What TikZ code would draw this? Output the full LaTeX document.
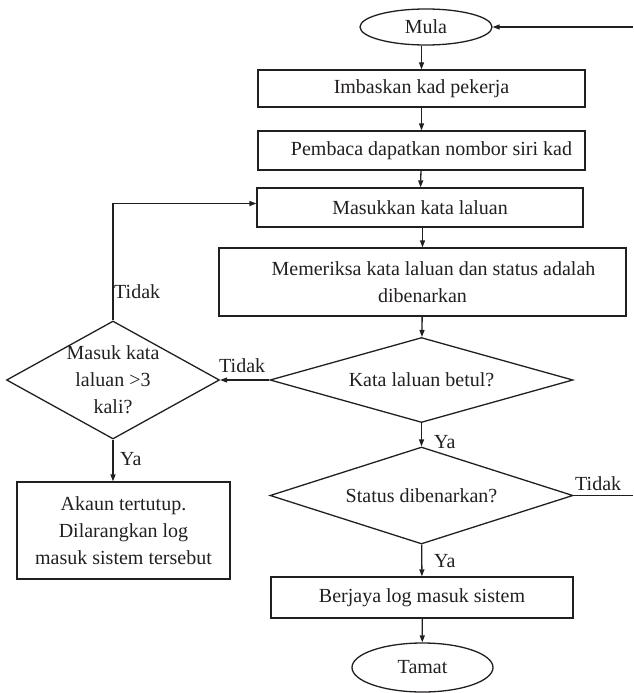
\documentclass[tikz,border=0pt]{standalone}
\usepackage{fontspec}
\setmainfont{Liberation Serif}
\usetikzlibrary{shapes.geometric,arrows.meta}
\definecolor{ink}{HTML}{231F20}
\begin{document}
\begin{tikzpicture}[x=1pt,y=-1pt,
  every node/.style={font=\fontsize{20}{27}\selectfont, text=ink},
  box/.style={draw=ink, line width=1.3pt, rectangle, inner sep=0pt, align=center},
  term/.style={draw=ink, line width=1.3pt, ellipse, inner sep=0pt},
  dec/.style={draw=ink, line width=1.3pt, diamond, inner sep=0pt},
  flow/.style={draw=ink, line width=1.3pt, -{Triangle[length=7pt,width=5pt]}},
  wire/.style={draw=ink, line width=1.3pt},
  tag/.style={anchor=base west, inner sep=0pt}]
\useasboundingbox (0,0) rectangle (633,693);

% main column
\node[term, minimum width=132pt, minimum height=36pt] (mula) at (426,27) {Mula};
\node[box, minimum width=327pt, minimum height=37pt] (imb) at (421.5,88.5) {Imbaskan kad pekerja};
\node[box, minimum width=327pt, minimum height=39pt] (pem) at (421.5,150.5) {\hspace*{20pt}Pembaca dapatkan nombor siri kad};
\node[box, minimum width=326pt, minimum height=39pt] (mas) at (420,207.5) {Masukkan kata laluan};
\node[box, minimum width=407pt, minimum height=68pt] (mem) at (422.5,282) {\hspace*{22pt}Memeriksa kata laluan dan status adalah\\dibenarkan};
\node[dec, minimum width=303pt, minimum height=85pt, label={center:Kata laluan betul?}] (kata) at (421.5,380) {};
\node[dec, minimum width=303pt, minimum height=97pt, label={center:Status dibenarkan?}] (stat) at (421.5,495.5) {};
\node[box, minimum width=302pt, minimum height=41pt] (ok) at (422,597.5) {Berjaya log masuk sistem};
\node[term, minimum width=141pt, minimum height=49pt] (tamat) at (422.5,667.5) {Tamat};

% left branch
\node[dec, minimum width=213pt, minimum height=118pt, label={[align=center]center:Masuk kata\\laluan >3\\kali?}] (lim) at (113,380) {};
\node[box, minimum width=213pt, minimum height=97pt] (akaun) at (123.5,530.5) {Akaun tertutup.\\Dilarangkan log\\masuk sistem tersebut};

% loose ends
\coordinate (entry) at (633,27);
\coordinate (exit) at (633,495.5);

% connectors
\draw[flow] (entry) -- (mula.east);
\draw[flow] (mula.south -| imb.north) -- (imb.north);
\draw[flow] (imb) -- (pem);
\draw[flow] (pem) -- (mas);
\draw[flow] (mas.south -| mem.north) -- (mem.north);
\draw[flow] (mem) -- (kata);
\draw[flow] (kata) -- (stat);
\draw[flow] (stat) -- (ok);
\draw[flow] (ok) -- (tamat);
\draw[flow] (kata.west) -- (lim.east);
\draw[flow] (lim.north) |- ([yshift=4pt]mas.west);
\draw[flow] (lim.south) -- (lim.south |- akaun.north);
\draw[wire] (stat.east) -- (exit);

% branch labels
\node[tag] at (434,448) {Ya};
\node[tag] at (434,567) {Ya};
\node[tag] at (120,465) {Ya};
\node[tag] at (219,372) {Tidak};
\node[tag] at (114,298) {Tidak};
\node[tag] at (575,490) {Tidak};
\end{tikzpicture}
\end{document}
